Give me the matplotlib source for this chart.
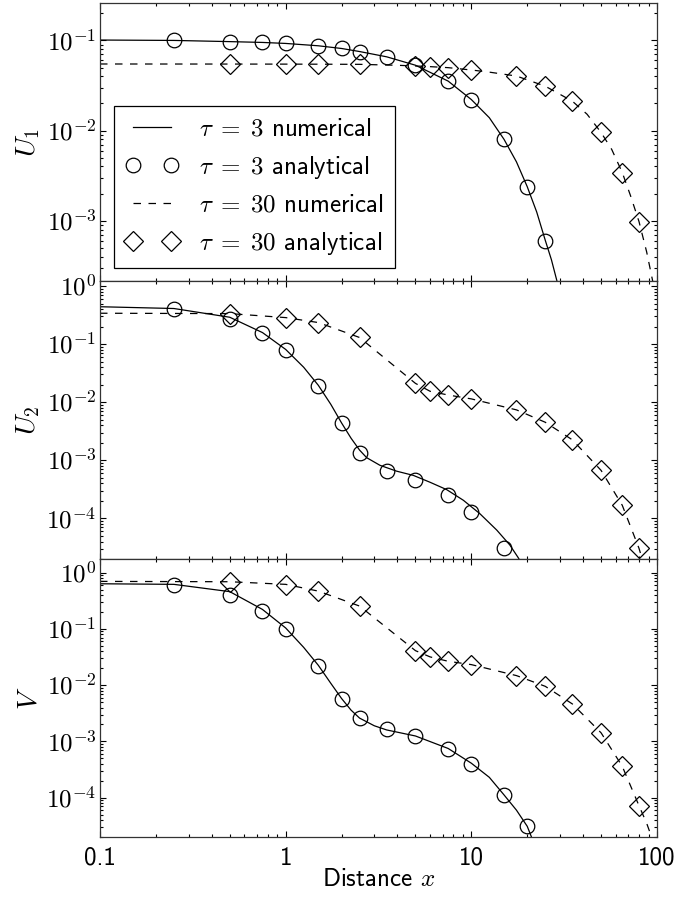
import numpy as np
import matplotlib
matplotlib.use("Agg")
import matplotlib.pyplot as plt
from matplotlib.ticker import (FixedLocator, FixedFormatter, LogLocator,
                               NullFormatter, FuncFormatter)
from matplotlib.legend_handler import HandlerLine2D
from matplotlib.lines import Line2D

plt.rcParams['font.family'] = ['cmss10', 'DejaVu Sans']
plt.rcParams['mathtext.fontset'] = 'cm'
plt.rcParams['axes.unicode_minus'] = False
plt.rcParams['font.size'] = 18

# ---------------- data ----------------
# analytical sample points
x_a3 = [0.25, 0.5, 0.75, 1, 1.5, 2, 2.5, 3.5, 5, 7.5, 10, 15, 20, 25]
x_a30 = [0.5, 1, 1.5, 2.5, 5, 6, 7.5, 10, 17.5, 25, 35, 50, 65, 80]

# U1
u1_a3 = [0.100, 0.097, 0.095, 0.0926, 0.0872, 0.0814, 0.0753, 0.0658, 0.0531,
         0.0354, 0.0221, 0.0080, 0.00239, 5.94e-4]
u1_a30 = [0.0548, 0.0546, 0.0545, 0.0544, 0.0521, 0.0512, 0.0499, 0.047,
          0.0403, 0.0311, 0.0212, 0.00953, 0.00343, 9.8e-4]
x_u1_n3 = [0.1, 0.25, 0.5, 0.75, 1, 1.5, 2, 2.5, 3.5, 5, 7.5, 10, 12.5, 15,
           17.5, 20, 22.5, 25, 27, 29, 30]
u1_n3 = [0.101, 0.100, 0.097, 0.095, 0.0926, 0.0872, 0.0814, 0.0753, 0.0658,
         0.0531, 0.0354, 0.0221, 0.0139, 0.0080, 0.0045, 0.00239, 0.00125,
         6.1e-4, 3.7e-4, 2.1e-4, 1.4e-4]
x_u1_n30 = [0.1, 0.5, 1, 1.5, 2.5, 4, 5, 6, 7.5, 10, 12.5, 17.5, 25, 35, 42,
            50, 57, 65, 72, 80, 88, 95, 100]
u1_n30 = [0.0548, 0.0547, 0.0546, 0.0545, 0.0543, 0.053, 0.0521, 0.0512,
          0.0499, 0.047, 0.0445, 0.0403, 0.0311, 0.0212, 0.0152, 0.00953,
          0.0062, 0.00343, 0.0019, 9.8e-4, 4.5e-4, 2.1e-4, 1.0e-4]

# U2
u2_a3 = [0.408, 0.268, 0.155, 0.0798, 0.0193, 0.00436, 0.00135, 6.5e-4,
         4.5e-4, 2.5e-4, 1.3e-4, 3.05e-5, 1.0e-5, 1.0e-6]
u2_a30 = [0.335, 0.286, 0.235, 0.130, 0.0211, 0.0154, 0.0133, 0.0114,
          0.00738, 0.00452, 0.00225, 6.7e-4, 1.68e-4, 3.05e-5]
x_u2_n3 = [0.1, 0.25, 0.5, 0.75, 1, 1.25, 1.5, 1.75, 2, 2.25, 2.5, 2.73, 3.22,
           3.96, 4.87, 5.98, 7.36, 9.06, 11.1, 13.7, 16.1, 17.9, 19]
u2_n3 = [0.44, 0.41, 0.29, 0.158, 0.081, 0.04, 0.0195, 0.0092, 0.0044,
         0.0024, 0.0015, 1.11e-3, 8.2e-4, 6.5e-4, 5.5e-4, 4.2e-4, 3.13e-4,
         2.05e-4, 1.21e-4, 6.3e-5, 3.5e-5, 2.1e-5, 1.5e-5]
x_u2_n30 = [0.1, 0.5, 1, 1.5, 2.5, 5, 6, 7.5, 10, 17.5, 25, 35, 50, 65, 80,
            85, 90]
u2_n30 = [0.34, 0.335, 0.286, 0.235, 0.130, 0.0211, 0.0154, 0.0133, 0.0114,
          0.00738, 0.00452, 0.00225, 6.7e-4, 1.68e-4, 3.05e-5, 1.6e-5, 1.0e-5]

# V
v_a3 = [0.613, 0.407, 0.211, 0.1, 0.0223, 0.0057, 0.00262, 0.00169, 0.00123,
        7.36e-4, 4.03e-4, 1.1e-4, 3.1e-5, 1.0e-6]
v_a30 = [0.686, 0.613, 0.466, 0.252, 0.0411, 0.0318, 0.0266, 0.0232, 0.0148,
         0.00955, 0.00464, 0.00142, 3.61e-4, 7.2e-5]
x_v_n3 = [0.1, 0.25, 0.5, 0.75, 1, 1.25, 1.5, 1.75, 2, 2.25, 2.5, 3, 3.5, 5,
          7.5, 10, 12.5, 15, 17.5, 20, 21.5]
v_n3 = [0.635, 0.62, 0.46, 0.222, 0.104, 0.047, 0.0225, 0.0108, 0.0058,
        0.0036, 0.0026, 0.0019, 0.0016, 0.00125, 7.5e-4, 4.1e-4, 2.3e-4,
        1.12e-4, 6.0e-5, 3.1e-5, 1.7e-5]
x_v_n30 = [0.1, 0.5, 1, 1.5, 2.5, 5, 6, 7.5, 10, 17.5, 25, 35, 50, 65, 80,
           88, 93.5, 97]
v_n30 = [0.70, 0.69, 0.62, 0.47, 0.255, 0.0411, 0.0318, 0.0266, 0.0232,
         0.0148, 0.00955, 0.00464, 0.00142, 3.61e-4, 7.2e-5, 3.5e-5, 2.0e-5,
         1.0e-5]

x_ticks = [0.1, 1, 10, 100]
x_ticklabels = ['0.1', '1', '10', '100']
ylabels = ['$U_1$', '$U_2$', '$V$']
ylims = [(2.15e-4, 0.26), (2e-5, 1.22), (2e-5, 1.75)]
legend_labels = [r'$\tau\;=\;\mathsf{3}$ numerical',
                 r'$\tau\;=\;\mathsf{3}$ analytical',
                 r'$\tau\;=\;\mathsf{30}$ numerical',
                 r'$\tau\;=\;\mathsf{30}$ analytical']

panels = [
    (x_u1_n3, u1_n3, u1_a3, x_u1_n30, u1_n30, u1_a30),
    (x_u2_n3, u2_n3, u2_a3, x_u2_n30, u2_n30, u2_a30),
    (x_v_n3, v_n3, v_a3, x_v_n30, v_n30, v_a30),
]


def log_fmt(v, pos):
    e = int(round(np.log10(v)))
    return r'$\mathsf{10^{%d}}$' % e


# ---------------- figure ----------------
fig = plt.figure(figsize=(7, 8.97), dpi=100)
left, width = 100 / 700, 557 / 700
top, bottom = 1 - 3 / 897, 60 / 897
h = (top - bottom) / 3

lw = 0.9
ms = 10.5
for i, (xn3, yn3, ya3, xn30, yn30, ya30) in enumerate(panels):
    ax = fig.add_axes([left, top - (i + 1) * h, width, h])
    ax.set_xscale('log')
    ax.set_yscale('log')
    l1, = ax.plot(xn3, yn3, '-', color='k', lw=lw)
    l2, = ax.plot(x_a3, ya3, 'o', mfc='none', mec='k', mew=lw, ms=ms)
    l3, = ax.plot(xn30, yn30, '--', color='k', lw=lw, dashes=(6, 6))
    l4, = ax.plot(x_a30, ya30, 'D', mfc='none', mec='k', mew=lw, ms=10)
    ax.set_xlim(0.1, 100)
    ax.set_ylim(*ylims[i])
    ax.xaxis.set_major_locator(FixedLocator(x_ticks))
    ax.xaxis.set_minor_locator(LogLocator(base=10, subs=np.arange(2, 10)))
    ax.xaxis.set_minor_formatter(NullFormatter())
    if i == 2:
        ax.xaxis.set_major_formatter(FixedFormatter(x_ticklabels))
        ax.set_xlabel('Distance $x$', labelpad=-1)
    else:
        ax.xaxis.set_major_formatter(NullFormatter())
    ax.yaxis.set_major_locator(LogLocator(base=10, numticks=20))
    ax.yaxis.set_major_formatter(FuncFormatter(log_fmt))
    ax.yaxis.set_minor_locator(LogLocator(base=10, subs=np.arange(2, 10), numticks=20))
    ax.yaxis.set_minor_formatter(NullFormatter())
    ax.tick_params(which='both', direction='in', top=True, right=True,
                   width=0.8, colors='k')
    ax.tick_params(which='major', length=4.5)
    ax.tick_params(which='minor', length=2.2)
    ax.tick_params(axis='y', which='major', pad=2.5)
    ax.tick_params(axis='x', which='major', pad=7)
    for sp in ax.spines.values():
        sp.set_linewidth(0.9)
        sp.set_color('#333333')
    ax.set_ylabel(ylabels[i], fontsize=20)
    ax.yaxis.set_label_coords(-0.105, 0.5)
    if i == 0:
        leg = ax.legend([l1, l2, l3, l4], legend_labels, loc='lower left',
                        bbox_to_anchor=(0.025, 0.047), borderaxespad=0,
                        numpoints=2, fancybox=False, framealpha=1,
                        edgecolor='k', handlelength=2.15, handletextpad=0.8,
                        borderpad=0.45, labelspacing=0.52, fontsize=18,
                        handler_map={Line2D: HandlerLine2D(marker_pad=0.3)})
        leg.get_frame().set_linewidth(0.9)

fig.savefig('out.png', dpi=100)
